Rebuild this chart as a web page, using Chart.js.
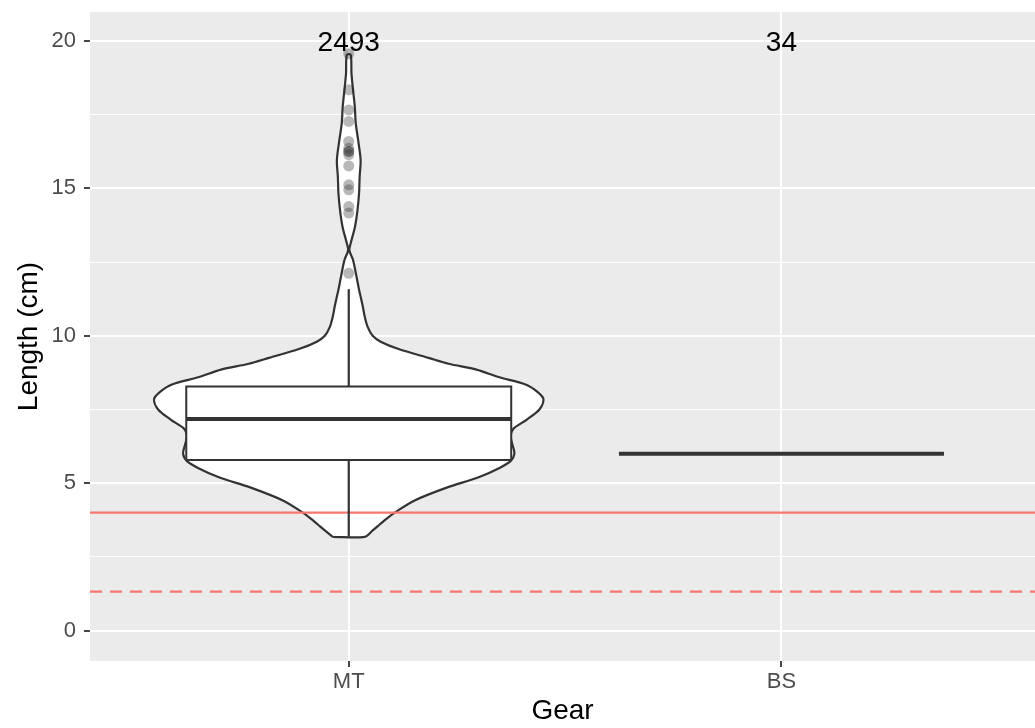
<!DOCTYPE html>
<html>
<head>
<meta charset="utf-8">
<script src="https://cdn.jsdelivr.net/npm/chart.js@4.4.1/dist/chart.umd.min.js"></script>
<style>
  html, body { margin: 0; padding: 0; background: #fff; overflow: hidden; }
  #wrap { width: 1035px; height: 728px; }
  canvas { display: block; }
</style>
</head>
<body>
<div id="wrap"><canvas id="gear_chart" width="1035" height="728"></canvas></div>
<script>
const gears = ['MT', 'BS'];
const gearCounts = [2493, 34];
// lower whisker, q1, median, q3, upper whisker
const mtBox = [3.18, 5.79, 7.18, 8.28, 11.58];
const bsBox = [6.0, 6.0, 6.0, 6.0, 6.0];
const mtOutliers = [12.12, 14.16, 14.38, 14.95, 15.12, 15.76, 16.14, 16.25, 16.25, 16.36, 16.59, 17.27, 17.66, 18.34, 19.56];
// violin profile for MT (density scaled so the widest point is 1)
const mtViolinY = [3.18, 3.4, 3.6, 3.8, 4.0, 4.4, 4.85, 5.2, 5.5, 5.75, 6.0, 6.3, 6.6, 6.85, 7.15,
    7.5, 7.85, 8.1, 8.35, 8.6, 8.85, 9.05, 9.25, 9.55, 9.8, 10.0, 10.3, 10.65, 11.0, 11.3,
    11.56, 12.0, 12.57, 12.9, 13.14, 13.7, 14.27, 14.84, 15.4, 15.95, 16.6, 17.2, 17.77, 18.34, 18.9, 19.53];
const mtViolinDensity = [0.082, 0.123, 0.159, 0.195, 0.236, 0.333, 0.503, 0.667, 0.769, 0.831, 0.851, 0.841, 0.831, 0.846, 0.913,
    0.979, 1.0, 0.969, 0.908, 0.769, 0.656, 0.513, 0.41, 0.256, 0.164, 0.123, 0.097, 0.082, 0.072, 0.062,
    0.053, 0.04, 0.022, 0.003, 0.01, 0.032, 0.045, 0.053, 0.056, 0.061, 0.049, 0.036, 0.031, 0.022, 0.014, 0.01];
const minLength = 4.0;
const minLengthLow = 1.32;
const countLabelY = 20;
const yMajorTicks = [0, 5, 10, 15, 20];
const yMinorTicks = [2.5, 7.5, 12.5, 17.5];

// the panel runs a little past the right edge of the canvas
const xMin = 0.402, xMax = 2.586;
const violinWidth = 0.9;
const boxWidth = 0.751;
const dark = '#333333';
const red = '#F8766D';
const fontFamily = '"Liberation Sans", Arial, sans-serif';

Chart.defaults.font.family = fontFamily;

function violinPoints(pos, ys, dens) {
    let left = ys.map((y, i) => ({x: pos - dens[i] * violinWidth / 2, y: y}));
    let right = ys.map((y, i) => ({x: pos + dens[i] * violinWidth / 2, y: y})).reverse();
    return left.concat(right, [left[0]]);
}

function boxDatasets(pos, stats, order) {
    const [lo, q1, med, q3, hi] = stats;
    const l = pos - boxWidth / 2, r = pos + boxWidth / 2;
    const base = {type: 'line', pointRadius: 0, borderColor: dark, tension: 0, order: order};
    return [
        {...base, data: [{x: pos, y: q3}, {x: pos, y: hi}], borderWidth: 2.2},
        {...base, data: [{x: pos, y: q1}, {x: pos, y: lo}], borderWidth: 2.2},
        {...base, data: [{x: l, y: q1}, {x: l, y: q3}, {x: r, y: q3}, {x: r, y: q1}, {x: l, y: q1}],
            fill: 'shape', backgroundColor: '#ffffff', borderWidth: 2},
        {...base, data: [{x: l, y: med}, {x: r, y: med}], borderWidth: 4, order: order - 1}
    ];
}

const panelBackground = {
    id: 'panelBackground',
    beforeDraw(chart) {
        const {ctx, chartArea} = chart;
        ctx.save();
        ctx.fillStyle = '#EBEBEB';
        ctx.fillRect(chartArea.left, chartArea.top, chartArea.right - chartArea.left, chartArea.bottom - chartArea.top);
        ctx.restore();
    }
};

const countLabels = {
    id: 'countLabels',
    afterDatasetsDraw(chart) {
        const {ctx, scales} = chart;
        ctx.save();
        ctx.fillStyle = '#000';
        ctx.font = '28px ' + fontFamily;
        ctx.textAlign = 'center';
        ctx.textBaseline = 'alphabetic';
        gearCounts.forEach((n, i) => {
            const px = scales.x.getPixelForValue(i + 1);
            const py = scales.y.getPixelForValue(countLabelY);
            ctx.fillText(String(n), px, py + 10);
        });
        ctx.restore();
    }
};

const datasets = [
    {
        type: 'line', data: violinPoints(1, mtViolinY, mtViolinDensity),
        borderColor: dark, borderWidth: 2.2, backgroundColor: '#ffffff',
        fill: 'shape', pointRadius: 0, tension: 0.3, order: 10
    },
    {
        type: 'line', data: [{x: xMin, y: minLength}, {x: xMax, y: minLength}],
        borderColor: red, borderWidth: 2.2, pointRadius: 0, order: 9
    },
    {
        type: 'line', data: [{x: xMin, y: minLengthLow}, {x: xMax, y: minLengthLow}],
        borderColor: red, borderWidth: 2.2, borderDash: [12, 8], pointRadius: 0, order: 9
    },
    ...boxDatasets(1, mtBox, 8),
    ...boxDatasets(2, bsBox, 8),
    {
        type: 'scatter', data: mtOutliers.map(v => ({x: 1, y: v})),
        pointRadius: 5.5, pointBackgroundColor: 'rgba(40,40,40,0.33)', pointBorderWidth: 0, order: 1
    }
];

const chart = new Chart(document.getElementById('gear_chart').getContext('2d'), {
    type: 'line',
    data: {datasets: datasets},
    plugins: [panelBackground, countLabels],
    options: {
        responsive: false,
        devicePixelRatio: 1,
        animation: false,
        layout: {padding: {top: 12, right: 0, left: 0, bottom: 0}, autoPadding: false},
        plugins: {legend: {display: false}, tooltip: {enabled: false}},
        scales: {
            x: {
                type: 'linear', min: xMin, max: xMax,
                afterBuildTicks: s => { s.ticks = gears.map((g, i) => ({value: i + 1})); },
                afterFit: s => { s.height = 67; s.paddingLeft = 0; s.paddingRight = 0; },
                border: {display: false},
                grid: {color: '#ffffff', lineWidth: 2, tickColor: dark, tickLength: 6, tickWidth: 1.8},
                ticks: {
                    autoSkip: false, maxRotation: 0, color: '#4D4D4D', font: {size: 22}, padding: 2,
                    callback: v => gears[v - 1]
                },
                title: {display: true, text: 'Gear', color: '#000', font: {size: 28}, padding: {top: 8, bottom: 0}}
            },
            y: {
                type: 'linear', min: -1.03, max: 20.98,
                afterBuildTicks: s => {
                    s.ticks = yMajorTicks.concat(yMinorTicks).sort((a, b) => a - b).map(v => ({value: v}));
                },
                afterFit: s => { s.width = 90; s.paddingTop = 0; s.paddingBottom = 0; },
                border: {display: false},
                grid: {
                    color: '#ffffff',
                    lineWidth: c => yMajorTicks.includes(c.tick.value) ? 2 : 1,
                    tickColor: c => yMajorTicks.includes(c.tick.value) ? dark : 'rgba(0,0,0,0)',
                    tickLength: 6, tickWidth: 1.8
                },
                ticks: {
                    autoSkip: false, color: '#4D4D4D', font: {size: 22}, padding: 8,
                    callback: v => yMajorTicks.includes(v) ? String(v) : ''
                },
                title: {display: true, text: 'Length (cm)', color: '#000', font: {size: 28}, padding: {top: 12, bottom: 0}}
            }
        }
    }
});
</script>
</body>
</html>
